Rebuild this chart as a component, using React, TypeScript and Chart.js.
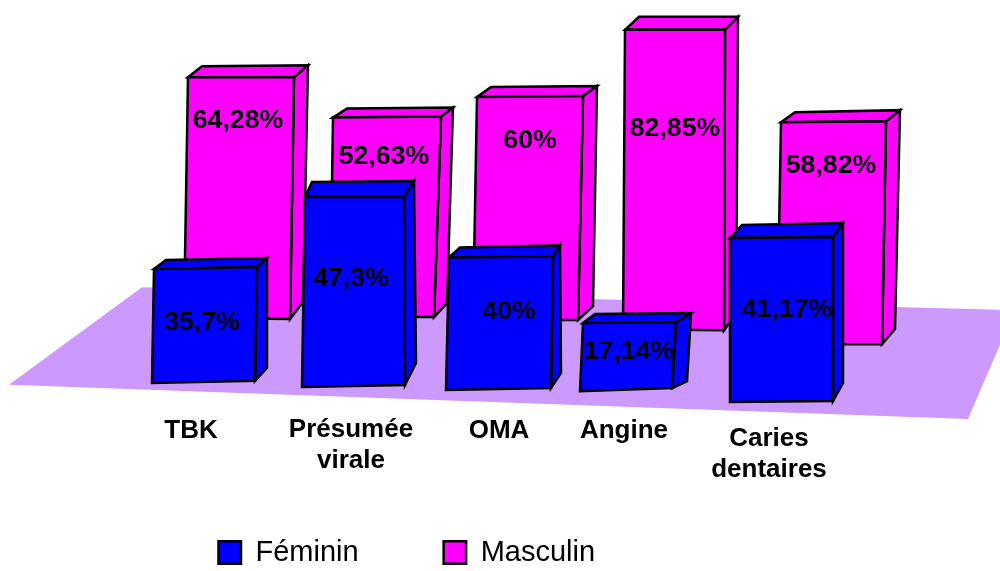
import React, { useEffect, useRef } from "react";
import { Chart, registerables } from "chart.js";

Chart.register(...registerables);

// ---- data ----
const categories = [["TBK"], ["Présumée", "virale"], ["OMA"], ["Angine"], ["Caries", "dentaires"]];
const femininValues = [35.7, 47.3, 40, 17.14, 41.17];
const masculinValues = [64.28, 52.63, 60, 82.85, 58.82];
const seriesNames = ["Féminin", "Masculin"];

// ---- perspective of the picture: depth of each bar on the floor, in axis units ----
const femininSlot = [205.5, 354.5, 501, 629.5, 781.5];
const masculinSlot = [241, 387, 530, 675, 833.5];
const femininFloor = [40.3, 39.2, 38.4, 38.2, 35.0];
const masculinFloor = [57.4, 57.8, 57.0, 54.4, 50.5];
const femininStretch = [0.862, 1.08, 0.892, 1.057, 1.076];
const masculinStretch = [1.015, 1.027, 1.007, 0.978, 1.022];

// topW, botW, lean, topTilt, botTilt, backL dx/dy, backR dx/dy, foot dx/dy
const femininShape = [
  [103, 103, -2, -2, -2, 12, -9, 10, -9, 12, -13],
  [99, 103, -1, 0, -2, 7, -15, 10, -16, 11, -22],
  [104, 105, -2.5, -1, -2, 11, -10, 7, -11, 10, -15],
  [93, 92, -3.5, -1, -3, 12, -9, 15, -9, 15, -7],
  [103, 103, 0, -1, -1, 12, -13, 10, -14, 10, -18],
];
const masculinShape = [
  [106, 106, -4, 0, 1, 14, -11, 14, -12, 13, -17],
  [108, 104, -5, -1, 0, 14, -9, 12, -9, 13, -14],
  [106, 105, -4.5, -1, 0, 14, -10, 14, -10, 15, -14],
  [100, 101, -1.5, 0, 1, 14, -13, 13, -13, 12, -17],
  [105, 105, -4, -1, 0, 14, -10, 14, -11, 13, -15],
];
// value label offset from the top centre of its bar
const femininLabelAt = [[-3.5, 55], [-3.5, 82], [8, 54.5], [-0.5, 29.5], [5.5, 72.5]];
const masculinLabelAt = [[-3, 43], [-3, 39.5], [0, 44.5], [0, 99], [-2.5, 43.5]];

const categoryAt = [[191, 431], [351, 430], [499, 431], [624, 431], [769, 439]];
const floorCorners = [[9, 39.5], [968, 30.3], [1015, 59.7], [142, 65.9]];

const FONT = '"Liberation Sans", Arial, sans-serif';
const BLUE = "#0000FF";
const MAGENTA = "#FF00FF";
const FLOOR = "#CC99FF";
const X_MAX = 1000;
const Y_MAX = 143.5;

const shapes = [femininShape, masculinShape];
const labelAt = [femininLabelAt, masculinLabelAt];
const values = [femininValues, masculinValues];

const points = (vals: number[], slot: number[], floor: number[], stretch: number[]) =>
  vals.map((v, i) => ({ x: slot[i], y: [floor[i], floor[i] + v * stretch[i]] }));

const pct = (v: number) => String(v).replace(".", ",") + "%";

function poly(ctx: CanvasRenderingContext2D, pts: number[][], fill: string, stroke: string, lw: number) {
  ctx.beginPath();
  pts.forEach((p, i) => (i ? ctx.lineTo(p[0], p[1]) : ctx.moveTo(p[0], p[1])));
  ctx.closePath();
  ctx.fillStyle = fill;
  ctx.fill();
  if (lw > 0) {
    ctx.strokeStyle = stroke;
    ctx.lineWidth = lw;
    ctx.lineJoin = "miter";
    ctx.stroke();
  }
}

const scene3d = {
  id: "scene3d",
  afterLayout(chart: any) {
    const lg = chart.legend;
    const pad = lg.options.labels.padding;
    const h = lg.legendHitBoxes[0].height;
    lg.left = 218.5 - pad;
    lg.top = 552.5 - h / 2 - pad;
  },
  beforeDatasetsDraw(chart: any) {
    const { ctx, scales } = chart;
    poly(
      ctx,
      floorCorners.map((c) => [scales.x.getPixelForValue(c[0]), scales.y.getPixelForValue(c[1])]),
      FLOOR,
      FLOOR,
      0
    );
  },
  beforeDatasetDraw(chart: any, args: any) {
    const { ctx } = chart;
    const ds = args.index;
    args.meta.data.forEach((bar: any, i: number) => {
      const [topW, botW, lean, topTilt, botTilt, blx, bly, brx, bry, fx, fy] = shapes[ds][i];
      const color = bar.options.backgroundColor;
      const line = bar.options.borderColor;
      const lw = bar.options.borderWidth;
      const tl = [bar.x - topW / 2, bar.y - topTilt / 2];
      const tr = [bar.x + topW / 2, bar.y + topTilt / 2];
      const br = [bar.x + lean + botW / 2, bar.base + botTilt / 2];
      const bl = [bar.x + lean - botW / 2, bar.base - botTilt / 2];
      const backL = [tl[0] + blx, tl[1] + bly];
      const backR = [tr[0] + brx, tr[1] + bry];
      const foot = [br[0] + fx, br[1] + fy];
      poly(ctx, [tr, backR, foot, br], color, line, lw);
      poly(ctx, [tl, backL, backR, tr], color, line, lw);
      poly(ctx, [tl, tr, br, bl], color, line, lw);
    });
    return false;
  },
  afterDatasetsDraw(chart: any) {
    const { ctx, scales } = chart;
    ctx.save();
    ctx.fillStyle = "#000";
    ctx.textAlign = "center";
    ctx.textBaseline = "middle";
    ctx.font = `bold 26.7px ${FONT}`;
    [1, 0].forEach((ds) => {
      chart.getDatasetMeta(ds).data.forEach((bar: any, i: number) => {
        const [dx, dy] = labelAt[ds][i];
        ctx.fillText(pct(values[ds][i]), bar.x + dx, bar.y + dy);
      });
    });
    ctx.font = `bold 26px ${FONT}`;
    categories.forEach((lines, i) => {
      lines.forEach((t, j) => {
        ctx.fillText(t, scales.x.getPixelForValue(categoryAt[i][0]), categoryAt[i][1] + j * 31);
      });
    });
    ctx.restore();
  },
};

export default function App() {
  const ref = useRef<HTMLCanvasElement>(null);
  useEffect(() => {
    const chart = new Chart(ref.current as HTMLCanvasElement, {
      type: "bar",
      data: {
        datasets: [
          {
            label: seriesNames[0],
            data: points(femininValues, femininSlot, femininFloor, femininStretch) as any,
            backgroundColor: BLUE,
            borderColor: "#000",
            borderWidth: 2.5,
            barThickness: 103,
            grouped: false,
          },
          {
            label: seriesNames[1],
            data: points(masculinValues, masculinSlot, masculinFloor, masculinStretch) as any,
            backgroundColor: MAGENTA,
            borderColor: "#000",
            borderWidth: 2.5,
            barThickness: 106,
            grouped: false,
          },
        ],
      },
      options: {
        responsive: false,
        animation: false,
        layout: { padding: 0 },
        scales: {
          x: { type: "linear", min: 0, max: X_MAX, offset: false, display: false },
          y: { type: "linear", min: 0, max: Y_MAX, display: false },
        },
        plugins: {
          tooltip: { enabled: false },
          legend: {
            position: "bottom",
            align: "start",
            maxHeight: 40,
            labels: {
              boxWidth: 22.5,
              boxHeight: 22.5,
              padding: 85,
              color: "#000",
              font: { family: FONT, size: 29 },
            },
          },
        },
      } as any,
      plugins: [scene3d],
    });
    return () => chart.destroy();
  }, []);
  return (
    <div style={{ position: "absolute", left: 0, top: 0, width: 1000, height: 571, background: "#fff" }}>
      <canvas ref={ref} width={1000} height={571} style={{ display: "block" }} />
    </div>
  );
}
